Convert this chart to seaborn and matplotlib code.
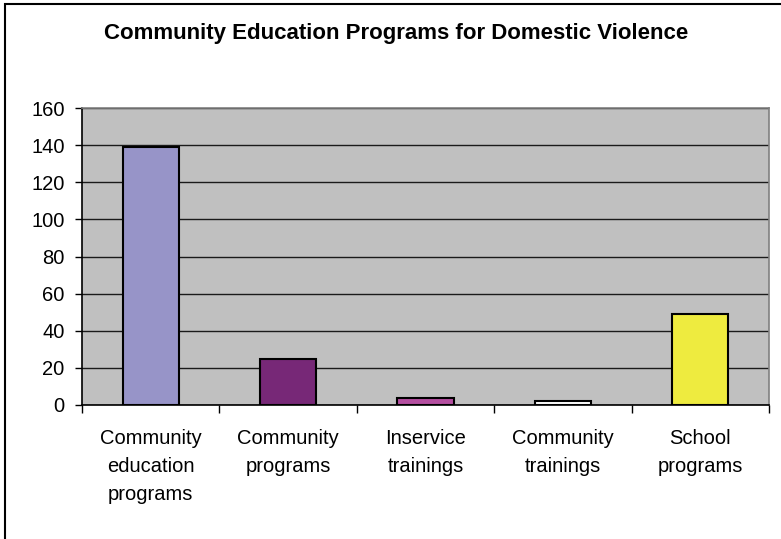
import matplotlib
matplotlib.use("Agg")
import matplotlib.pyplot as plt
import seaborn as sns
import pandas as pd
from matplotlib.patches import Rectangle

categories = ["Community\neducation\nprograms", "Community\nprograms", "Inservice\ntrainings",
              "Community\ntrainings", "School\nprograms"]
values = [139, 25, 4, 2, 49]
colors = ["#9794C8", "#772877", "#B44FA0", "#FFFFFF", "#EEEB3F"]
yticks = [0, 20, 40, 60, 80, 100, 120, 140, 160]
title = "Community Education Programs for Domestic Violence"

sns.set_theme(style="white")
plt.rcParams['font.family'] = ['Liberation Sans', 'DejaVu Sans']
plt.rcParams['text.color'] = 'black'

df = pd.DataFrame({"cat": categories, "val": values})

fig = plt.figure(figsize=(7.81, 5.39), dpi=100)
ax = fig.add_axes([82/781, 1-405/539, (769-82)/781, (405-108)/539])
ax.set_facecolor("#C0C0C0")

sns.barplot(data=df, x="cat", y="val", hue="cat", palette=colors, legend=False,
            width=0.41, edgecolor="black", linewidth=1.5, saturation=1, ax=ax, zorder=3)

ax.set_ylim(0, 160)
ax.set_xlim(-0.5, 4.5)
ax.set_yticks(yticks)
ax.set_yticklabels([str(v) for v in yticks], fontsize=14.5, color="black")
ax.yaxis.grid(True, color="#1a1a1a", linewidth=1.0, zorder=1)
ax.set_axisbelow(True)
ax.set_xlabel("")
ax.set_ylabel("")

ax.set_xticks(range(5))
ax.set_xticklabels(categories, fontsize=14.5, linespacing=1.6, color="black")
ax.tick_params(axis="x", which="major", length=0, pad=17)
ax.set_xticks([-0.5, 0.5, 1.5, 2.5, 3.5, 4.5], minor=True)
ax.tick_params(axis="x", which="minor", length=6, width=1, color="black", direction="out", bottom=True)
ax.tick_params(axis="y", length=5, width=1, color="black", direction="out", left=True, pad=7.5)

for s in ["left", "bottom"]:
    ax.spines[s].set_color("black")
    ax.spines[s].set_linewidth(1.2)
for s in ["top", "right"]:
    ax.spines[s].set_color("#808080")
    ax.spines[s].set_linewidth(1.2)

fig.text(396/781, 1-33/539, title, ha="center", va="center", fontsize=16,
         fontweight="bold", color="black")

fig.patches.append(Rectangle((5/781, -0.1), 1.2, 1.1 - 4/539, transform=fig.transFigure,
                             fill=False, edgecolor="black", linewidth=1.5))

fig.savefig("out.png", dpi=100)
